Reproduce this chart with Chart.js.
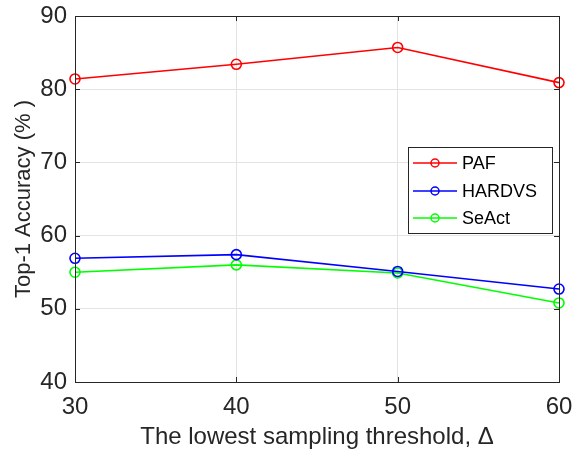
<!DOCTYPE html>
<html>
<head>
<meta charset="utf-8">
<script src="https://cdn.jsdelivr.net/npm/chart.js@4.4.0/dist/chart.umd.min.js"></script>
<style>
  html, body { margin: 0; padding: 0; background: #ffffff; }
  #wrap { position: relative; width: 574px; height: 449px; }
</style>
</head>
<body>
<div id="wrap"><canvas id="c" width="574" height="449"></canvas></div>
<script>
const thresholds = [30, 40, 50, 60];
const pafValues = [81.4, 83.4, 85.7, 80.9];
const hardvsValues = [56.9, 57.4, 55.1, 52.7];
const seactValues = [55.0, 56.0, 54.9, 50.8];
const seriesNames = ['PAF', 'HARDVS', 'SeAct'];
const seriesColors = ['#ff0000', '#0000ff', '#00ff00'];
const xTicks = [30, 40, 50, 60];
const yTicks = [40, 50, 60, 70, 80, 90];

const FONT = "'Liberation Sans', Arial, Helvetica, sans-serif";
const AXIS = '#262626';

function toPoints(vals) { return thresholds.map((x, i) => ({ x: x, y: vals[i] })); }
const allVals = [pafValues, hardvsValues, seactValues];

const boxPlugin = {
  id: 'boxPlugin',
  afterDraw(chart) {
    const ctx = chart.ctx;
    const a = chart.chartArea;
    const xs = chart.scales.x, ys = chart.scales.y;
    ctx.save();
    ctx.strokeStyle = AXIS;
    ctx.lineWidth = 1;
    ctx.strokeRect(Math.round(a.left) + 0.5, Math.round(a.top) + 0.5,
      Math.round(a.right - a.left), Math.round(a.bottom - a.top));
    const L = 5;
    ctx.beginPath();
    xTicks.forEach(v => {
      const px = Math.round(xs.getPixelForValue(v)) + 0.5;
      ctx.moveTo(px, a.bottom); ctx.lineTo(px, a.bottom - L);
      ctx.moveTo(px, a.top); ctx.lineTo(px, a.top + L);
    });
    yTicks.forEach(v => {
      const py = Math.round(ys.getPixelForValue(v)) + 0.5;
      ctx.moveTo(a.left, py); ctx.lineTo(a.left + L, py);
      ctx.moveTo(a.right, py); ctx.lineTo(a.right - L, py);
    });
    ctx.stroke();

    // legend
    const lx = 408, ly = 147, lw = 144, lh = 86;
    ctx.fillStyle = '#ffffff';
    ctx.fillRect(lx, ly, lw, lh);
    ctx.strokeStyle = AXIS;
    ctx.strokeRect(lx + 0.5, ly + 0.5, lw, lh);
    const rows = [163, 191, 218];
    ctx.font = '18px ' + FONT;
    ctx.textBaseline = 'middle';
    seriesNames.forEach((n, i) => {
      const y = rows[i];
      ctx.strokeStyle = seriesColors[i];
      ctx.lineWidth = 1.5;
      ctx.beginPath();
      ctx.moveTo(413, y); ctx.lineTo(457, y);
      ctx.stroke();
      ctx.beginPath();
      ctx.arc(435, y, 4, 0, Math.PI * 2);
      ctx.stroke();
      ctx.fillStyle = '#000000';
      ctx.fillText(n, 462, y + 1);
    });
    ctx.restore();
  }
};

new Chart(document.getElementById('c'), {
  type: 'line',
  data: {
    datasets: seriesNames.map((n, i) => ({
      label: n,
      data: toPoints(allVals[i]),
      borderColor: seriesColors[i],
      backgroundColor: 'rgba(0,0,0,0)',
      borderWidth: 1.6,
      pointStyle: 'circle',
      pointRadius: 5,
      pointBorderWidth: 1.6,
      pointBackgroundColor: 'rgba(0,0,0,0)',
      pointBorderColor: seriesColors[i],
      tension: 0,
      clip: false
    }))
  },
  options: {
    responsive: false,
    animation: false,
    events: [],
    layout: { padding: { left: 0, right: 15, top: 16, bottom: 0 } },
    plugins: { legend: { display: false }, tooltip: { enabled: false } },
    scales: {
      x: {
        type: 'linear', min: 30, max: 60,
        afterBuildTicks(s) { s.ticks = xTicks.map(v => ({ value: v })); },
        afterFit(s) { s.height = 67; s.paddingLeft = 0; s.paddingRight = 0; },
        grid: { color: '#e3e3e3', drawTicks: false, lineWidth: 1 },
        border: { display: false },
        ticks: { color: AXIS, font: { family: FONT, size: 24 }, padding: 11, maxRotation: 0 },
        title: { display: true, text: 'The lowest sampling threshold, Δ', color: AXIS,
                 font: { family: FONT, size: 24 }, padding: { top: 0, bottom: -3 } }
      },
      y: {
        type: 'linear', min: 40, max: 90,
        afterBuildTicks(s) { s.ticks = yTicks.map(v => ({ value: v })); },
        afterFit(s) { s.width = 75; s.paddingTop = 0; s.paddingBottom = 0; },
        grid: { color: '#e3e3e3', drawTicks: false, lineWidth: 1 },
        border: { display: false },
        ticks: { color: AXIS, font: { family: FONT, size: 24 }, padding: 8 },
        title: { display: true, text: 'Top-1 Accuracy (% )', color: AXIS,
                 font: { family: FONT, size: 22 }, padding: { top: 11, bottom: 0 } }
      }
    }
  },
  plugins: [boxPlugin]
});
</script>
</body>
</html>
